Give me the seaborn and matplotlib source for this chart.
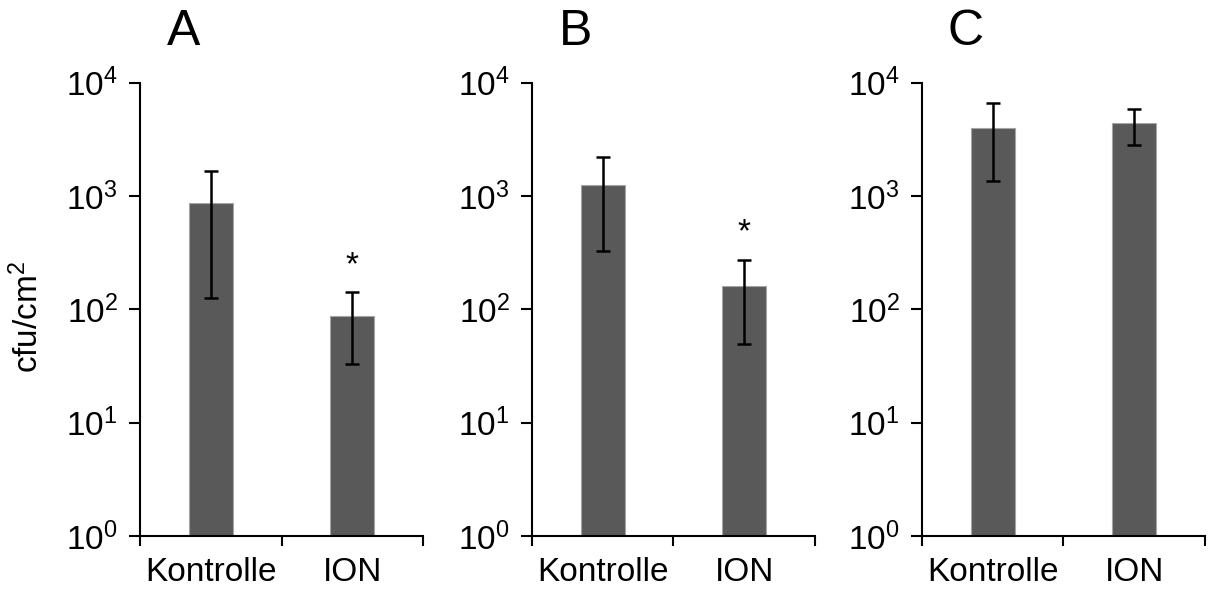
import numpy as np
import pandas as pd
import matplotlib
matplotlib.use("Agg")
import matplotlib.pyplot as plt
from matplotlib.ticker import LogLocator, LogFormatterMathtext, NullLocator, FixedLocator
import seaborn as sns

# ---- data ----
categories = ["Kontrolle", "ION"]
panel_labels = ["A", "B", "C"]

means_A = [877, 88]
low_A = [126, 33]
high_A = [1650, 141]
signif_A = [False, True]

means_B = [1262, 162]
low_B = [325, 49]
high_B = [2198, 274]
signif_B = [False, True]

means_C = [3963, 4388]
low_C = [1368, 2845]
high_C = [6640, 5878]
signif_C = [False, False]

y_label = "cfu/cm$^{2}$"

# ---- style ----
sns.set_style("white")
plt.rcParams["font.family"] = ["Liberation Sans", "DejaVu Sans"]
plt.rcParams["mathtext.fontset"] = "custom"
plt.rcParams["mathtext.rm"] = "Liberation Sans"
plt.rcParams["mathtext.it"] = "Liberation Sans"
plt.rcParams["mathtext.default"] = "regular"
plt.rcParams["text.color"] = "black"
plt.rcParams["axes.labelcolor"] = "black"

fig = plt.figure(figsize=(12.09, 5.93), dpi=100)

lefts = [0.1158, 0.4400, 0.7626]
bottom, height, width = 0.0961, 0.7644, 0.2341

panels = [
    (means_A, low_A, high_A, signif_A),
    (means_B, low_B, high_B, signif_B),
    (means_C, low_C, high_C, signif_C),
]

bar_color = "#595959"

for label, left, (means, lo, hi, sig) in zip(panel_labels, lefts, panels):
    ax = fig.add_axes([left, bottom, width, height])
    df = pd.DataFrame({"Gruppe": categories, "cfu": means})
    sns.barplot(data=df, x="Gruppe", y="cfu", ax=ax, color=bar_color,
                saturation=1, width=0.31, errorbar=None, log_scale=True,
                edgecolor="#a5a5a5", linewidth=0.8)
    m = np.array(means, dtype=float)
    yerr = [m - np.array(lo, dtype=float), np.array(hi, dtype=float) - m]
    xpos = np.arange(len(categories))
    ax.errorbar(xpos, m, yerr=yerr, fmt="none", ecolor="black",
                elinewidth=1.8, capsize=4.7, capthick=1.8, zorder=5)
    for xi, s, h in zip(xpos, sig, hi):
        if s:
            ax.text(xi, h * 1.45, "*", ha="center", va="baseline", fontsize=24)

    ax.set_yscale("log")
    ax.set_ylim(1, 1e4)
    ax.set_xlim(-0.5, 1.5)
    ax.yaxis.set_major_locator(LogLocator(base=10, numticks=10))
    ax.yaxis.set_major_formatter(LogFormatterMathtext())
    ax.yaxis.set_minor_locator(NullLocator())
    ax.set_xticks(xpos)
    ax.set_xticklabels(categories)
    ax.xaxis.set_minor_locator(FixedLocator([-0.5, 0.5, 1.5]))
    ax.set_xlabel("")
    ax.set_ylabel("")

    for sp in ["top", "right"]:
        ax.spines[sp].set_visible(False)
    for sp in ["left", "bottom"]:
        ax.spines[sp].set_color("black")
        ax.spines[sp].set_linewidth(1.5)

    ax.tick_params(axis="y", which="major", direction="out", left=True,
                   length=8, width=1.5, color="black", labelsize=24, pad=8,
                   labelcolor="black")
    ax.tick_params(axis="x", which="major", length=0, labelsize=24, pad=15,
                   labelcolor="black")
    ax.tick_params(axis="x", which="minor", direction="out", bottom=True,
                   length=7.5, width=1.5, color="black")

    ax.text(0.155, 1.083, label, transform=ax.transAxes, fontsize=36,
            ha="center", va="baseline")

fig.text(0.023, 0.465, y_label, rotation=90, ha="center", va="center",
         fontsize=24)

fig.savefig("out.png", dpi=100)
